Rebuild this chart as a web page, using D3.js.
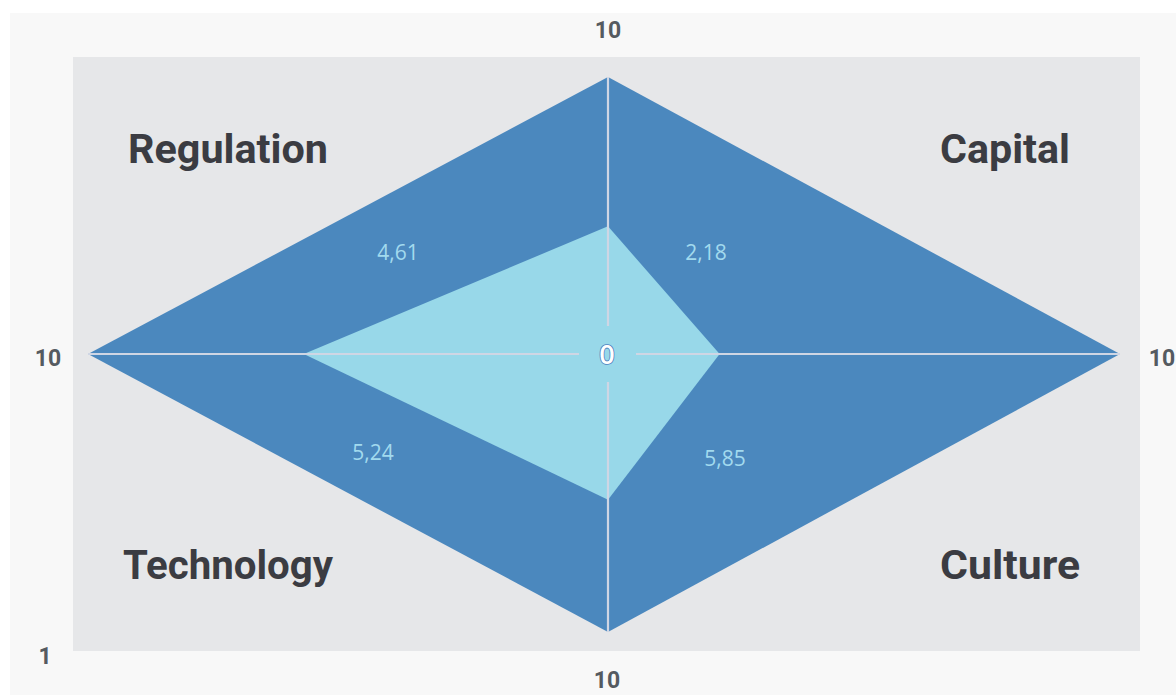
<!DOCTYPE html>
<html>
<head>
<meta charset="utf-8">
<script src="https://cdn.jsdelivr.net/npm/d3@7"></script>
<style>
  html, body { margin: 0; padding: 0; background: #ffffff; }
  svg { display: block; }
</style>
</head>
<body>
<svg id="chart" width="1176" height="695"></svg>
<script>
// Four-axis radar: each axis runs from 0 at the centre to 10 at the tip
const axes = ["top", "right", "bottom", "left"];
const axisMaxLabels = ["10", "10", "10", "10"];
const scores = [4.61, 2.18, 5.24, 5.85];
const scoreLabels = ["4,61", "2,18", "5,24", "5,85"];
const quadrantNames = ["Regulation", "Capital", "Technology", "Culture"];
const domainMax = 10;

const svg = d3.select("#chart");

// page panels
svg.append("rect").attr("x", 10).attr("y", 13).attr("width", 1166).attr("height", 682).attr("fill", "#f8f8f8");
svg.append("rect").attr("x", 73).attr("y", 57).attr("width", 1067).attr("height", 594).attr("fill", "#e6e7e9");

const cx = 608, cy = 354;
// one radial scale per direction (the diamond is wider than it is tall)
const radius = {
  top: d3.scaleLinear().domain([0, domainMax]).range([0, 277]),
  right: d3.scaleLinear().domain([0, domainMax]).range([0, 512]),
  bottom: d3.scaleLinear().domain([0, domainMax]).range([0, 278]),
  left: d3.scaleLinear().domain([0, domainMax]).range([0, 520])
};
const dir = { top: [0, -1], right: [1, 0], bottom: [0, 1], left: [-1, 0] };
const pt = (axis, v) => [cx + dir[axis][0] * radius[axis](v), cy + dir[axis][1] * radius[axis](v)];

const line = d3.line().curve(d3.curveLinearClosed);

// outer diamond (full scale)
svg.append("path")
  .attr("d", line(axes.map(a => pt(a, domainMax))))
  .attr("fill", "#4b88be");

// score polygon
svg.append("path")
  .attr("d", line(axes.map((a, i) => pt(a, scores[i]))))
  .attr("fill", "#98d8e9");

// axis spokes, leaving a gap around the centre label
const gap = { top: 28, bottom: 28, left: 29, right: 28 };
axes.forEach(a => {
  const r0 = radius[a].invert(gap[a]);
  const p0 = pt(a, r0), p1 = pt(a, domainMax);
  svg.append("line")
    .attr("x1", p0[0]).attr("y1", p0[1]).attr("x2", p1[0]).attr("y2", p1[1])
    .attr("stroke", "#cfd6e4").attr("stroke-width", 2.2);
});

// centre label
svg.append("text")
  .attr("x", cx - 1).attr("y", cy + 10)
  .attr("text-anchor", "middle")
  .attr("font-family", "Open Sans, sans-serif")
  .attr("font-size", 27).attr("font-weight", 600)
  .attr("fill", "#ffffff").attr("stroke", "#4f80bf").attr("stroke-width", 1.6)
  .attr("paint-order", "stroke")
  .text("0");

// axis maximum labels
const tickPos = { top: [608, 38], right: [1162, 366], bottom: [607, 688], left: [48, 366] };
axes.forEach((a, i) => {
  svg.append("text")
    .attr("x", tickPos[a][0]).attr("y", tickPos[a][1])
    .attr("text-anchor", "middle")
    .attr("font-family", "Roboto, sans-serif")
    .attr("font-size", 23).attr("font-weight", 700)
    .attr("fill", "#555a60")
    .text(axisMaxLabels[i]);
});
svg.append("text")
  .attr("x", 45).attr("y", 664)
  .attr("text-anchor", "middle")
  .attr("font-family", "Roboto, sans-serif")
  .attr("font-size", 23).attr("font-weight", 700)
  .attr("fill", "#555a60")
  .text("1");

// quadrant names
const namePos = [[128, 163], [940, 163], [123, 579], [940, 579]];
const nameWidth = [200, 130, 210, 140];
quadrantNames.forEach((n, i) => {
  svg.append("text")
    .attr("x", namePos[i][0]).attr("y", namePos[i][1])
    .attr("text-anchor", "start")
    .attr("font-family", "Roboto, sans-serif")
    .attr("font-size", 40).attr("font-weight", 700)
    .attr("textLength", nameWidth[i]).attr("lengthAdjust", "spacingAndGlyphs")
    .attr("fill", "#3b3c42")
    .text(n);
});

// score labels
const labelPos = [[398, 260], [706, 260], [373, 460], [725, 466]];
scoreLabels.forEach((s, i) => {
  svg.append("text")
    .attr("x", labelPos[i][0]).attr("y", labelPos[i][1])
    .attr("text-anchor", "middle")
    .attr("font-family", "Open Sans, sans-serif")
    .attr("font-size", 21)
    .attr("fill", "#a2daee")
    .text(s);
});
</script>
</body>
</html>
